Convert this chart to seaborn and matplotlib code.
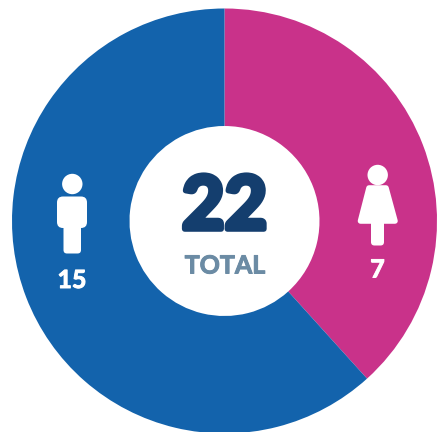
import matplotlib
matplotlib.use("Agg")
import matplotlib.pyplot as plt
import matplotlib.patheffects as pe
from matplotlib.patches import Circle, FancyBboxPatch, Polygon
import seaborn as sns

categories = ["Female", "Male"]
counts = [7, 15]
# angular shares as drawn in the picture (the pink slice spans about 138 degrees)
drawn_shares = [38.3, 61.7]
total_value = 22
total_label = "TOTAL"

slice_colors = ["#C9328A", "#1363AC"]
navy = "#143E6E"
slate = "#6B8BA4"

sns.set_theme(style="white")
plt.rcParams["font.family"] = ["Lato", "DejaVu Sans"]

fig = plt.figure(figsize=(4.41, 4.32), dpi=100)
ax = fig.add_axes([0, 0, 1, 1])
# the y axis runs downwards, so a data-counterclockwise pie reads clockwise on screen
ax.pie(drawn_shares, colors=sns.color_palette(slice_colors), startangle=-90, counterclock=True,
       center=(224.5, 221), radius=212.5, frame=True,
       wedgeprops=dict(width=117.5, linewidth=0))
ax.set_xlim(0, 441)
ax.set_ylim(432, 0)
ax.set_aspect("equal")
ax.axis("off")


def round_box(x0, y0, x1, y1, r):
    ax.add_patch(FancyBboxPatch((x0 + r, y0 + r), x1 - x0 - 2 * r, y1 - y0 - 2 * r,
                                boxstyle=f"round,pad={r},rounding_size={r}",
                                fc="white", ec="none", zorder=3))


def thick(color, width):
    return [pe.withStroke(linewidth=width, foreground=color, joinstyle="round")]


# male icon
ax.add_patch(Circle((72.3, 184), 10.2, fc="white", ec="none", zorder=3))
round_box(57, 196.5, 87, 228, 6)
round_box(63.5, 215, 81, 253.5, 3.5)

# female icon
ax.add_patch(Circle((377.7, 175), 10.2, fc="white", ec="none", zorder=3))
ax.add_patch(Polygon([(369, 188), (386, 188), (395, 221), (360.5, 221)], closed=True,
                     fc="white", ec="white", lw=4, joinstyle="round", zorder=3))
round_box(371, 215, 384, 245.5, 3.5)

# labels
ax.text(72, 278.5, str(counts[1]), color="white", fontsize=18, fontweight="bold",
        ha="center", va="center_baseline", zorder=4, path_effects=thick("white", 0.7))
ax.text(377.5, 268, str(counts[0]), color="white", fontsize=18, fontweight="bold",
        ha="center", va="center_baseline", zorder=4, path_effects=thick("white", 0.7))
ax.text(224.5, 201, str(total_value), color=navy, fontsize=53, fontweight="bold",
        ha="center", va="center_baseline", zorder=4, path_effects=thick(navy, 4))
ax.text(225, 264, total_label, color=slate, fontsize=18, fontweight="bold",
        ha="center", va="center_baseline", zorder=4, path_effects=thick(slate, 0.7))

fig.savefig("out.png", dpi=100, facecolor="white")
